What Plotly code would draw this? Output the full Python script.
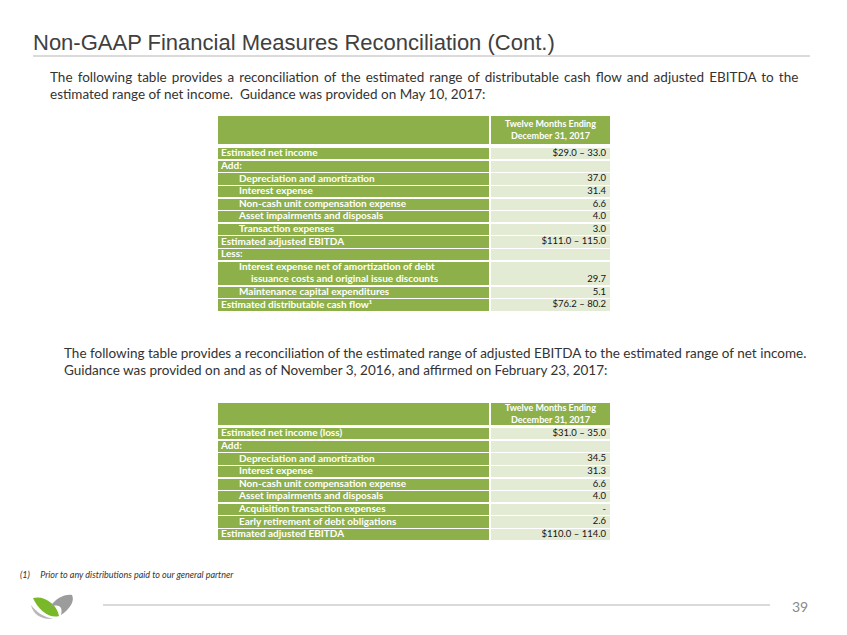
import plotly.graph_objects as go

W, H = 847, 635

title_text = "Non-GAAP Financial Measures Reconciliation (Cont.)"
para1 = ["The following table provides a reconciliation of the estimated range of distributable cash flow and adjusted EBITDA to the",
         "estimated range of net income.  Guidance was provided on May 10, 2017:"]
para2 = ["The following table provides a reconciliation of the estimated range of adjusted EBITDA to the estimated range of net income.",
         "Guidance was provided on and as of November 3, 2016, and affirmed on February 23, 2017:"]
header_col = "Twelve Months Ending<br>December 31, 2017"
footnote = "(1)\u2003\u2002Prior to any distributions paid to our general partner"
page_no = "39"

# Table 1 rows: indent level, label (\n = second line), value
t1_levels = [0, 0, 1, 1, 1, 1, 1, 0, 0, 1, 1, 0]
t1_labels = ["Estimated net income", "Add:", "Depreciation and amortization", "Interest expense",
             "Non-cash unit compensation expense", "Asset impairments and disposals", "Transaction expenses",
             "Estimated adjusted EBITDA", "Less:",
             "Interest expense net of amortization of debt\nissuance costs and original issue discounts",
             "Maintenance capital expenditures", "Estimated distributable cash flow\u00b9"]
t1_values = ["$29.0 \u2013 33.0", "", "37.0", "31.4", "6.6", "4.0", "3.0", "$111.0 \u2013 115.0", "",
             "29.7", "5.1", "$76.2 \u2013 80.2"]

# Table 2 rows
t2_levels = [0, 0, 1, 1, 1, 1, 1, 1, 0]
t2_labels = ["Estimated net income (loss)", "Add:", "Depreciation and amortization", "Interest expense",
             "Non-cash unit compensation expense", "Asset impairments and disposals",
             "Acquisition transaction expenses", "Early retirement of debt obligations", "Estimated adjusted EBITDA"]
t2_values = ["$31.0 \u2013 35.0", "", "34.5", "31.3", "6.6", "4.0", "-", "2.6", "$110.0 \u2013 114.0"]

GREEN = "#8eb04a"
PALE = "#e3ebd5"
FONT = "Lato, Carlito, Calibri, sans-serif"
TEXT = "#141414"

# table geometry (pixels)
X0, XSPLIT, XGAP, X1 = 218, 489, 2, 610
ROW_H = 12.6
SEP = 1.4


def add_table(fig, labels, levels, values, top, header_h, gap, head_text_y):
    # header cells
    hc = top + header_h / 2
    fig.add_trace(go.Bar(orientation="h", y=[hc, hc], x=[XSPLIT - X0, X1 - XSPLIT - XGAP],
                         base=[X0, XSPLIT + XGAP], width=[header_h, header_h],
                         marker=dict(color=[GREEN, GREEN], line=dict(width=0)), hoverinfo="skip"))
    fig.add_trace(go.Scatter(x=[(XSPLIT + XGAP + X1) / 2], y=[head_text_y], mode="text",
                             text=["<b>" + header_col + "</b>"], textposition="middle center",
                             textfont=dict(family=FONT, size=9, color="white"), hoverinfo="skip"))
    # body rows
    y = top + header_h + gap
    centers, heights = [], []
    lx, ly, lt = [], [], []
    vx, vy, vt = [], [], []
    for lab, lev, val in zip(labels, levels, values):
        lines = lab.split("\n")
        h = ROW_H * len(lines)
        centers.append(y + h / 2)
        heights.append(h - SEP)
        for i, ln in enumerate(lines):
            lx.append(X0 + 3 + 18 * lev + 12 * i)
            ly.append(y + ROW_H * (i + 0.5))
            lt.append(ln)
        vx.append(X1 - 4)
        vy.append(y + h - ROW_H / 2)
        vt.append(val)
        y += h
    n = len(labels)
    fig.add_trace(go.Bar(orientation="h", y=centers, x=[XSPLIT - X0] * n, base=[X0] * n, width=heights,
                         marker=dict(color=GREEN, line=dict(width=0)), hoverinfo="skip"))
    fig.add_trace(go.Bar(orientation="h", y=centers, x=[X1 - XSPLIT - XGAP] * n, base=[XSPLIT + XGAP] * n,
                         width=heights, marker=dict(color=PALE, line=dict(width=0)), hoverinfo="skip"))
    fig.add_trace(go.Scatter(x=lx, y=ly, text=lt, mode="text", textposition="middle right",
                             textfont=dict(family=FONT, size=10, color="white", weight="bold"), hoverinfo="skip"))
    fig.add_trace(go.Scatter(x=vx, y=vy, text=vt, mode="text", textposition="middle left",
                             textfont=dict(family=FONT, size=9.5, color=TEXT), hoverinfo="skip"))


fig = go.Figure()
add_table(fig, t1_labels, t1_levels, t1_values, top=116, header_h=27.5, gap=4, head_text_y=131)
add_table(fig, t2_labels, t2_levels, t2_values, top=403, header_h=22, gap=2.5, head_text_y=415)

ann = []
ann.append(dict(x=31, y=42, text=title_text, showarrow=False, xanchor="left", yanchor="middle",
                font=dict(family="Liberation Sans Narrow, Arial Narrow, Liberation Sans, sans-serif", size=22, color="#404040")))
for i, line in enumerate(para1):
    if i == 0:
        line = line.replace(" ", " \u2009")
    ann.append(dict(x=48, y=77 + 17 * i, text=line, showarrow=False, xanchor="left", yanchor="middle",
                    font=dict(family=FONT, size=13.5, color="#333333")))
for i, line in enumerate(para2):
    ann.append(dict(x=62, y=353 + 17 * i, text=line, showarrow=False, xanchor="left", yanchor="middle",
                    font=dict(family=FONT, size=13.5, color="#333333")))
ann.append(dict(x=18, y=574, text="<i>" + footnote + "</i>", showarrow=False, xanchor="left", yanchor="middle",
                font=dict(family=FONT, size=9, color="#333333")))
ann.append(dict(x=810, y=606, text=page_no, showarrow=False, xanchor="right", yanchor="middle",
                font=dict(family=FONT, size=14, color="#8a8a8a")))

shapes = [
    dict(type="line", xref="x", yref="y", x0=33, x1=810, y0=56, y1=56, line=dict(color="#b5b5b5", width=1)),
    dict(type="line", xref="x", yref="y", x0=103, x1=770, y0=605, y1=605, line=dict(color="#b5b5b5", width=1)),
    # logo
    dict(type="path", xref="x", yref="y",
         path="M 33,598 C 44,595 57,604 59,616 C 50,619 38,610 33,598 Z",
         fillcolor="#79b829", line=dict(width=0)),
    dict(type="path", xref="x", yref="y",
         path="M 50,607 C 55,599 64,594 72,595 C 75,601 70,609 61,615 C 63,608 60,603 50,607 Z",
         fillcolor="#9c9c9c", line=dict(width=0)),
    dict(type="path", xref="x", yref="y",
         path="M 31,605 C 33,614 41,620 53,619 C 44,617 36,612 31,605 Z",
         fillcolor="#b8b8b8", line=dict(width=0)),
]

fig.update_layout(width=W, height=H, margin=dict(l=0, r=0, t=0, b=0), autosize=False,
                  paper_bgcolor="white", plot_bgcolor="white", barmode="overlay", bargap=0,
                  xaxis=dict(range=[0, W], visible=False, fixedrange=True),
                  yaxis=dict(range=[H, 0], visible=False, fixedrange=True),
                  annotations=ann, shapes=shapes, showlegend=False)
fig.write_html("out.html", config={"displayModeBar": False},
               post_script="document.body.style.margin='0px';")
